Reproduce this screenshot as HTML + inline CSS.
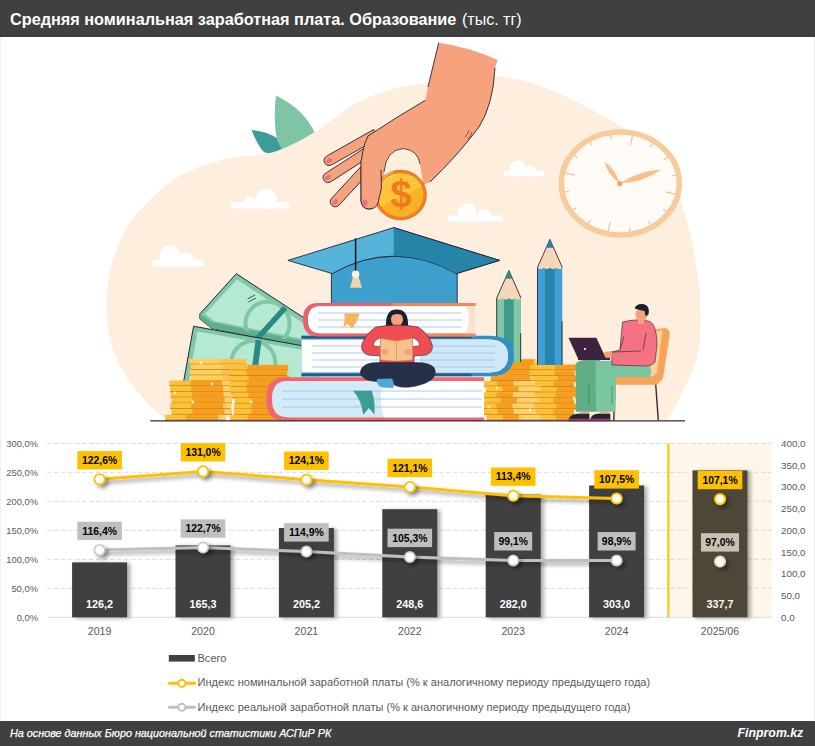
<!DOCTYPE html>
<html><head><meta charset="utf-8"><style>
html,body{margin:0;padding:0;background:#fff;}
body{width:815px;height:746px;position:relative;overflow:hidden;font-family:"Liberation Sans",sans-serif;}
.hdr{position:absolute;left:0;top:0;width:815px;height:36px;background:#404040;color:#fff;}
.hdr span{position:absolute;left:10px;top:9px;font-size:16.5px;white-space:nowrap;}
.ftr{position:absolute;left:0;top:721px;width:815px;height:25px;background:#404040;color:#fff;}
svg{position:absolute;left:0;top:0;}
</style></head><body>
<svg width="815" height="746" viewBox="0 0 815 746">
<line x1="0.5" y1="36" x2="0.5" y2="721" stroke="#efefef"/>
<line x1="814.5" y1="36" x2="814.5" y2="721" stroke="#ebebeb"/>
<path d="M251.6,130 Q268,131 280,140 L284,152 Q266,156 262,150 Q256,142 251.6,130Z" fill="#3f9b9a"/>
<path d="M275.9,95.5 Q273,120 277,140 L283,152 L316,136 Q306,110 275.9,95.5Z" fill="#7dc5a5"/>
<path d="M169.0,421.0 C166.0,418.6 157.6,413.1 151.0,406.4 C144.4,399.7 135.2,389.5 129.3,381.0 C123.4,372.5 118.8,364.0 115.3,355.5 C111.8,347.0 109.8,339.9 108.3,330.0 C106.8,320.1 105.5,308.2 106.5,296.0 C107.5,283.8 109.8,269.7 114.4,256.6 C119.0,243.6 123.9,230.6 133.9,217.7 C143.9,204.8 159.8,188.6 174.7,178.9 C189.5,169.2 206.8,163.8 223.0,159.4 C239.2,155.0 256.7,157.0 272.0,152.5 C287.3,148.0 300.4,140.7 314.7,132.3 C329.0,123.9 343.3,109.8 357.6,102.3 C371.9,94.8 386.3,90.8 400.6,87.2 C414.9,83.6 427.3,82.6 443.5,80.8 C459.7,79.0 480.9,75.3 498.0,76.5 C515.1,77.7 528.5,81.4 546.0,88.0 C563.5,94.6 586.0,106.5 603.0,116.0 C620.0,125.5 636.5,134.3 648.0,145.0 C659.5,155.7 665.3,166.7 672.0,180.0 C678.7,193.3 683.8,210.0 688.0,225.0 C692.2,240.0 694.9,256.2 697.0,270.0 C699.1,283.8 700.4,293.4 700.4,308.0 C700.4,322.6 701.2,341.1 697.0,357.6 C692.8,374.1 680.2,396.4 675.0,407.0 C669.8,417.6 667.5,418.7 666.0,421.0Z" fill="#fdeedd"/>
<g fill="#fff"><rect x="230.7" y="201.9" width="59.3" height="6.6" rx="3.3"/><circle cx="250.3" cy="202.3" r="6.1"/><circle cx="266.3" cy="198.7" r="10.2"/></g>
<g fill="#fff"><rect x="152.0" y="259.6" width="52.0" height="6.8" rx="3.4"/><circle cx="170.2" cy="256.1" r="10.7"/><circle cx="186.3" cy="259.6" r="7.3"/></g>
<g fill="#fff"><rect x="447.8" y="215.5" width="55.0" height="6.0" rx="3.0"/><circle cx="467.1" cy="212.4" r="9.5"/><circle cx="484.1" cy="215.5" r="6.4"/></g>
<g fill="#fff"><rect x="503.5" y="171.1" width="40.7" height="5.2" rx="2.6"/><circle cx="517.7" cy="168.6" r="8.1"/><circle cx="530.4" cy="171.1" r="5.5"/></g>
<ellipse cx="620.3" cy="183.5" rx="58.9" ry="51.5" fill="#fefbf7" stroke="#f8cb9d" stroke-width="5.6"/>
<line x1="610.5" y1="135.3" x2="611.3" y2="139.5" stroke="#f3bf8a" stroke-width="1.1"/>
<line x1="632.5" y1="135.8" x2="630.3" y2="145.5" stroke="#f3bf8a" stroke-width="1.1"/>
<line x1="652.6" y1="143.4" x2="650.2" y2="146.9" stroke="#f3bf8a" stroke-width="1.1"/>
<line x1="667.8" y1="157.2" x2="664.2" y2="159.5" stroke="#f3bf8a" stroke-width="1.1"/>
<line x1="675.7" y1="175.0" x2="671.6" y2="175.7" stroke="#f3bf8a" stroke-width="1.1"/>
<line x1="675.3" y1="194.1" x2="665.5" y2="191.9" stroke="#f3bf8a" stroke-width="1.1"/>
<line x1="666.4" y1="211.5" x2="663.0" y2="209.1" stroke="#f3bf8a" stroke-width="1.1"/>
<line x1="650.5" y1="224.7" x2="648.3" y2="221.2" stroke="#f3bf8a" stroke-width="1.1"/>
<line x1="630.1" y1="231.7" x2="629.3" y2="227.5" stroke="#f3bf8a" stroke-width="1.1"/>
<line x1="608.1" y1="231.2" x2="610.3" y2="221.5" stroke="#f3bf8a" stroke-width="1.1"/>
<line x1="588.0" y1="223.6" x2="590.4" y2="220.1" stroke="#f3bf8a" stroke-width="1.1"/>
<line x1="572.8" y1="209.8" x2="576.4" y2="207.5" stroke="#f3bf8a" stroke-width="1.1"/>
<line x1="564.9" y1="192.0" x2="569.0" y2="191.3" stroke="#f3bf8a" stroke-width="1.1"/>
<line x1="565.3" y1="172.9" x2="575.1" y2="175.1" stroke="#f3bf8a" stroke-width="1.1"/>
<line x1="574.2" y1="155.5" x2="577.6" y2="157.9" stroke="#f3bf8a" stroke-width="1.1"/>
<line x1="590.1" y1="142.3" x2="592.3" y2="145.8" stroke="#f3bf8a" stroke-width="1.1"/>
<path d="M619.8,183.6 Q616.1,169.7 604.3,161.5 Q608.0,175.4 619.8,183.6Z" fill="#f6c08c"/>
<path d="M619.8,183.6 Q642.7,182.7 661.5,169.5 Q638.6,170.4 619.8,183.6Z" fill="#f6c08c"/>
<circle cx="619.8" cy="183.6" r="2.6" fill="#eea66c"/>
<path d="M373.5,129.6 L327.5,155.6 Q322.3,158.6 324.8,163.0 Q327.2,167.3 332.5,164.4 L378.5,138.4Z" fill="#f5a27d" stroke="#26253a" stroke-width="0.9"/><ellipse cx="329.0" cy="160.6" rx="3.2" ry="2.2" transform="rotate(150.5 329.0 160.6)" fill="#ea7270"/>
<path d="M371.3,143.8 L326.3,172.8 Q321.2,176.0 324.0,180.3 Q326.7,184.5 331.7,181.2 L376.7,152.2Z" fill="#f5a27d" stroke="#26253a" stroke-width="0.9"/><ellipse cx="328.0" cy="177.7" rx="3.2" ry="2.2" transform="rotate(147.2 328.0 177.7)" fill="#ea7270"/>
<path d="M368.3,158.6 L332.3,197.6 Q328.3,202.0 331.9,205.4 Q335.6,208.8 339.7,204.4 L375.7,165.4Z" fill="#f5a27d" stroke="#26253a" stroke-width="0.9"/><ellipse cx="335.2" cy="201.9" rx="3.2" ry="2.2" transform="rotate(132.7 335.2 201.9)" fill="#ea7270"/>
<path d="M438.7,42.7 Q470,47 497.7,60.1 L495,68 Q493,105 479,127 Q458,155 430,182 L410,190 L384,192 L377,201 Q376,209 369,209 Q362,209 361,201 L361,170 Q361,150 368,136 Q395,118 425.3,100.3 L428,87 Z" fill="#f5a27d"/>
<path d="M438.7,42.7 L428,87 M425.3,100.3 Q395,118 368,136 Q361,150 361,170 L361,201 Q362,209 369,209 Q376,209 377,201 L381,180 M495,68 Q493,105 479,127 Q458,155 430,182" fill="none" stroke="#26253a" stroke-width="0.9"/>
<path d="M465,137 Q468,134 469,130 M468,139 Q471,136 472,132" fill="none" stroke="#26253a" stroke-width="0.6"/>
<ellipse cx="365.5" cy="203" rx="2.6" ry="3.6" fill="#ea7270"/>
<path d="M384,172 Q386,150 403,148.5 Q418,150 420,164 L424,190 L384,190 Z" fill="#fdeedd"/>
<path d="M384,172 Q386,150 403,148.5 Q418,150 420,164" fill="none" stroke="#26253a" stroke-width="0.8"/>
<defs><clipPath id="coinc"><ellipse cx="400.5" cy="195" rx="23" ry="21.8"/></clipPath></defs>
<ellipse cx="400.5" cy="195" rx="26" ry="24.9" fill="#f27d22" stroke="#b85a1a" stroke-width="0.5"/>
<ellipse cx="400.5" cy="195" rx="23" ry="21.8" fill="#f9b226"/>
<g clip-path="url(#coinc)"><path d="M370,160 L440,160 L440,178 L370,212 Z" fill="#fcc43b"/></g>
<path d="M383,178 Q388,173 393,172 M384,182 Q390,176 395,175" fill="none" stroke="#fde7a8" stroke-width="0.8"/>
<text x="401" y="207" font-family="Liberation Sans, sans-serif" font-weight="bold" font-size="38" fill="#f07a20" text-anchor="middle">$</text>
<path d="M361,160 L361,201 Q362,209 369,209 Q376,209 378,203 L381.4,188 L381,166 L375,160 Z" fill="#f5a27d"/>
<path d="M361,160 L361,201 Q362,209 369,209 Q376,209 378,203 L381.4,188 L381,170" fill="none" stroke="#26253a" stroke-width="0.9"/>
<ellipse cx="365" cy="203" rx="2.6" ry="3.8" fill="#ea7270"/>
<defs><clipPath id="cb1"><path d="M237,279.5 L318,333 L318,346 L214,324.5 L205,316 Z"/></clipPath><clipPath id="cb2"><path d="M197,331 L318,352 L318,400 L187,392 Z"/></clipPath></defs>
<path d="M236.3,273.7 L318,327 L318,350 L211.5,328.2 L199.9,319 L199.9,313.9 Z" fill="#80c9a7" stroke="#26253a" stroke-width="1"/>
<path d="M199.9,314 L211.5,322 L318,344 L318,350 L211.5,328.2 L199.9,319Z" fill="#5fae8d"/>
<path d="M237,279.5 L318,333 L318,342 L214,321 L205,314 Z" fill="#b6e9d3"/>
<g clip-path="url(#cb1)"><circle cx="267.5" cy="323.7" r="22" fill="none" stroke="#7fc7a6" stroke-width="4"/></g>
<path d="M285.3,307.7 L256.9,339" stroke="#2c8a82" stroke-width="5.5"/>
<path d="M247.5,299 L255,295 M248.5,302 L256,298" stroke="#26253a" stroke-width="0.8"/>
<path d="M193.6,326.3 L318,348.5 L318,400 L182.1,390 Z" fill="#80c9a7" stroke="#26253a" stroke-width="1"/>
<path d="M197.5,331.5 L318,352.5 L318,400 L187,392 Z" fill="#b6e9d3"/>
<g clip-path="url(#cb2)"><circle cx="253.3" cy="363" r="22" fill="none" stroke="#7fc7a6" stroke-width="4"/></g>
<path d="M258.6,340 L254,375" stroke="#2c8a82" stroke-width="6"/>
<rect x="188.7" y="359.0" width="57.5" height="5.5" fill="#fdd05a"/><rect x="220.3" y="359.0" width="25.9" height="5.5" fill="#fdc24a"/><rect x="246.2" y="359.0" width="0.0" height="5.5" fill="#fde08f"/><rect x="188.7" y="363.6" width="57.5" height="0.9" fill="#c9822e"/><rect x="190.8" y="364.5" width="57.5" height="5.5" fill="#fdd05a"/><rect x="222.4" y="364.5" width="25.9" height="5.5" fill="#fdc24a"/><rect x="248.3" y="364.5" width="0.0" height="5.5" fill="#fde08f"/><rect x="190.8" y="369.1" width="57.5" height="0.9" fill="#c9822e"/><rect x="189.6" y="370.0" width="57.5" height="5.5" fill="#fdd05a"/><rect x="221.2" y="370.0" width="25.9" height="5.5" fill="#fdc24a"/><rect x="247.1" y="370.0" width="0.0" height="5.5" fill="#fde08f"/><rect x="189.6" y="374.6" width="57.5" height="0.9" fill="#c9822e"/><rect x="191.2" y="375.5" width="57.5" height="5.5" fill="#fdd05a"/><rect x="222.9" y="375.5" width="25.9" height="5.5" fill="#fdc24a"/><rect x="248.7" y="375.5" width="0.0" height="5.5" fill="#fde08f"/><rect x="191.2" y="380.1" width="57.5" height="0.9" fill="#c9822e"/>
<rect x="230.2" y="364.9" width="58.0" height="5.6" fill="#fcc233"/><rect x="247.6" y="364.9" width="40.6" height="5.6" fill="#f79e1e"/><rect x="288.2" y="364.9" width="0.0" height="5.6" fill="#fbd06a"/><rect x="230.2" y="369.6" width="58.0" height="0.9" fill="#c9822e"/><rect x="229.2" y="370.5" width="58.0" height="5.6" fill="#fcc233"/><rect x="246.6" y="370.5" width="40.6" height="5.6" fill="#f79e1e"/><rect x="287.2" y="370.5" width="0.0" height="5.6" fill="#fbd06a"/><rect x="229.2" y="375.1" width="58.0" height="0.9" fill="#c9822e"/><rect x="231.3" y="376.0" width="58.0" height="5.6" fill="#fcc233"/><rect x="248.7" y="376.0" width="40.6" height="5.6" fill="#f79e1e"/><rect x="289.3" y="376.0" width="0.0" height="5.6" fill="#fbd06a"/><rect x="231.3" y="380.7" width="58.0" height="0.9" fill="#c9822e"/><rect x="229.6" y="381.6" width="58.0" height="5.6" fill="#fcc233"/><rect x="247.0" y="381.6" width="40.6" height="5.6" fill="#f79e1e"/><rect x="287.6" y="381.6" width="0.0" height="5.6" fill="#fbd06a"/><rect x="229.6" y="386.2" width="58.0" height="0.9" fill="#c9822e"/><rect x="229.0" y="387.1" width="58.0" height="5.6" fill="#fcc233"/><rect x="246.4" y="387.1" width="40.6" height="5.6" fill="#f79e1e"/><rect x="287.0" y="387.1" width="0.0" height="5.6" fill="#fbd06a"/><rect x="229.0" y="391.8" width="58.0" height="0.9" fill="#c9822e"/><rect x="231.3" y="392.7" width="58.0" height="5.6" fill="#fcc233"/><rect x="248.7" y="392.7" width="40.6" height="5.6" fill="#f79e1e"/><rect x="289.3" y="392.7" width="0.0" height="5.6" fill="#fbd06a"/><rect x="231.3" y="397.4" width="58.0" height="0.9" fill="#c9822e"/><rect x="234.9" y="398.3" width="58.0" height="5.6" fill="#fcc233"/><rect x="252.3" y="398.3" width="40.6" height="5.6" fill="#f79e1e"/><rect x="292.9" y="398.3" width="0.0" height="5.6" fill="#fbd06a"/><rect x="234.9" y="402.9" width="58.0" height="0.9" fill="#c9822e"/><rect x="234.1" y="403.8" width="58.0" height="5.6" fill="#fcc233"/><rect x="251.5" y="403.8" width="40.6" height="5.6" fill="#f79e1e"/><rect x="292.1" y="403.8" width="0.0" height="5.6" fill="#fbd06a"/><rect x="234.1" y="408.5" width="58.0" height="0.9" fill="#c9822e"/><rect x="233.9" y="409.4" width="58.0" height="5.6" fill="#fcc233"/><rect x="251.3" y="409.4" width="40.6" height="5.6" fill="#f79e1e"/><rect x="291.9" y="409.4" width="0.0" height="5.6" fill="#fbd06a"/><rect x="233.9" y="414.0" width="58.0" height="0.9" fill="#c9822e"/><rect x="230.1" y="414.9" width="58.0" height="5.6" fill="#fcc233"/><rect x="247.5" y="414.9" width="40.6" height="5.6" fill="#f79e1e"/><rect x="288.1" y="414.9" width="0.0" height="5.6" fill="#fbd06a"/><rect x="230.1" y="419.6" width="58.0" height="0.9" fill="#c9822e"/>
<rect x="169.4" y="380.5" width="60.3" height="5.7" fill="#fcc233"/><rect x="190.5" y="380.5" width="32.0" height="5.7" fill="#f79e1e"/><rect x="222.4" y="380.5" width="7.2" height="5.7" fill="#fbd06a"/><rect x="169.4" y="385.3" width="60.3" height="0.9" fill="#c9822e"/><rect x="170.2" y="386.2" width="60.3" height="5.7" fill="#fcc233"/><rect x="191.3" y="386.2" width="32.0" height="5.7" fill="#f79e1e"/><rect x="223.3" y="386.2" width="7.2" height="5.7" fill="#fbd06a"/><rect x="170.2" y="391.0" width="60.3" height="0.9" fill="#c9822e"/><rect x="170.6" y="391.9" width="60.3" height="5.7" fill="#fcc233"/><rect x="191.7" y="391.9" width="32.0" height="5.7" fill="#f79e1e"/><rect x="223.6" y="391.9" width="7.2" height="5.7" fill="#fbd06a"/><rect x="170.6" y="396.7" width="60.3" height="0.9" fill="#c9822e"/><rect x="171.6" y="397.6" width="60.3" height="5.7" fill="#fcc233"/><rect x="192.7" y="397.6" width="32.0" height="5.7" fill="#f79e1e"/><rect x="224.7" y="397.6" width="7.2" height="5.7" fill="#fbd06a"/><rect x="171.6" y="402.5" width="60.3" height="0.9" fill="#c9822e"/><rect x="170.2" y="403.4" width="60.3" height="5.7" fill="#fcc233"/><rect x="191.3" y="403.4" width="32.0" height="5.7" fill="#f79e1e"/><rect x="223.2" y="403.4" width="7.2" height="5.7" fill="#fbd06a"/><rect x="170.2" y="408.2" width="60.3" height="0.9" fill="#c9822e"/><rect x="171.5" y="409.1" width="60.3" height="5.7" fill="#fcc233"/><rect x="192.6" y="409.1" width="32.0" height="5.7" fill="#f79e1e"/><rect x="224.5" y="409.1" width="7.2" height="5.7" fill="#fbd06a"/><rect x="171.5" y="413.9" width="60.3" height="0.9" fill="#c9822e"/><rect x="165.2" y="414.8" width="60.3" height="5.7" fill="#fcc233"/><rect x="186.3" y="414.8" width="32.0" height="5.7" fill="#f79e1e"/><rect x="218.3" y="414.8" width="7.2" height="5.7" fill="#fbd06a"/><rect x="165.2" y="419.6" width="60.3" height="0.9" fill="#c9822e"/>
<rect x="494.6" y="359.3" width="52.7" height="5.4" fill="#fcc233"/><rect x="494.6" y="359.3" width="39.5" height="5.4" fill="#f79e1e"/><rect x="534.1" y="359.3" width="13.2" height="5.4" fill="#fbd06a"/><rect x="494.6" y="363.8" width="52.7" height="0.9" fill="#c9822e"/><rect x="494.8" y="364.7" width="52.7" height="5.4" fill="#fcc233"/><rect x="494.8" y="364.7" width="39.5" height="5.4" fill="#f79e1e"/><rect x="534.3" y="364.7" width="13.2" height="5.4" fill="#fbd06a"/><rect x="494.8" y="369.3" width="52.7" height="0.9" fill="#c9822e"/><rect x="492.4" y="370.1" width="52.7" height="5.4" fill="#fcc233"/><rect x="492.4" y="370.1" width="39.5" height="5.4" fill="#f79e1e"/><rect x="531.9" y="370.1" width="13.2" height="5.4" fill="#fbd06a"/><rect x="492.4" y="374.7" width="52.7" height="0.9" fill="#c9822e"/><rect x="490.8" y="375.6" width="52.7" height="5.4" fill="#fcc233"/><rect x="490.8" y="375.6" width="39.5" height="5.4" fill="#f79e1e"/><rect x="530.4" y="375.6" width="13.2" height="5.4" fill="#fbd06a"/><rect x="490.8" y="380.1" width="52.7" height="0.9" fill="#c9822e"/>
<rect x="530.4" y="364.7" width="45.4" height="5.6" fill="#fcc233"/><rect x="555.3" y="364.7" width="20.4" height="5.6" fill="#f79e1e"/><rect x="575.8" y="364.7" width="0.0" height="5.6" fill="#fbd06a"/><rect x="530.4" y="369.4" width="45.4" height="0.9" fill="#c9822e"/><rect x="529.2" y="370.3" width="45.4" height="5.6" fill="#fcc233"/><rect x="554.1" y="370.3" width="20.4" height="5.6" fill="#f79e1e"/><rect x="574.6" y="370.3" width="0.0" height="5.6" fill="#fbd06a"/><rect x="529.2" y="375.0" width="45.4" height="0.9" fill="#c9822e"/><rect x="532.7" y="375.9" width="45.4" height="5.6" fill="#fcc233"/><rect x="557.6" y="375.9" width="20.4" height="5.6" fill="#f79e1e"/><rect x="578.1" y="375.9" width="0.0" height="5.6" fill="#fbd06a"/><rect x="532.7" y="380.5" width="45.4" height="0.9" fill="#c9822e"/><rect x="528.6" y="381.4" width="45.4" height="5.6" fill="#fcc233"/><rect x="553.6" y="381.4" width="20.4" height="5.6" fill="#f79e1e"/><rect x="574.0" y="381.4" width="0.0" height="5.6" fill="#fbd06a"/><rect x="528.6" y="386.1" width="45.4" height="0.9" fill="#c9822e"/><rect x="531.9" y="387.0" width="45.4" height="5.6" fill="#fcc233"/><rect x="556.8" y="387.0" width="20.4" height="5.6" fill="#f79e1e"/><rect x="577.3" y="387.0" width="0.0" height="5.6" fill="#fbd06a"/><rect x="531.9" y="391.7" width="45.4" height="0.9" fill="#c9822e"/><rect x="530.7" y="392.6" width="45.4" height="5.6" fill="#fcc233"/><rect x="555.6" y="392.6" width="20.4" height="5.6" fill="#f79e1e"/><rect x="576.1" y="392.6" width="0.0" height="5.6" fill="#fbd06a"/><rect x="530.7" y="397.3" width="45.4" height="0.9" fill="#c9822e"/><rect x="528.5" y="398.2" width="45.4" height="5.6" fill="#fcc233"/><rect x="553.5" y="398.2" width="20.4" height="5.6" fill="#f79e1e"/><rect x="573.9" y="398.2" width="0.0" height="5.6" fill="#fbd06a"/><rect x="528.5" y="402.9" width="45.4" height="0.9" fill="#c9822e"/><rect x="531.7" y="403.8" width="45.4" height="5.6" fill="#fcc233"/><rect x="556.6" y="403.8" width="20.4" height="5.6" fill="#f79e1e"/><rect x="577.1" y="403.8" width="0.0" height="5.6" fill="#fbd06a"/><rect x="531.7" y="408.4" width="45.4" height="0.9" fill="#c9822e"/><rect x="528.4" y="409.3" width="45.4" height="5.6" fill="#fcc233"/><rect x="553.3" y="409.3" width="20.4" height="5.6" fill="#f79e1e"/><rect x="573.8" y="409.3" width="0.0" height="5.6" fill="#fbd06a"/><rect x="528.4" y="414.0" width="45.4" height="0.9" fill="#c9822e"/><rect x="531.1" y="414.9" width="45.4" height="5.6" fill="#fcc233"/><rect x="556.1" y="414.9" width="20.4" height="5.6" fill="#f79e1e"/><rect x="576.5" y="414.9" width="0.0" height="5.6" fill="#fbd06a"/><rect x="531.1" y="419.6" width="45.4" height="0.9" fill="#c9822e"/>
<rect x="481.1" y="381.0" width="54.2" height="5.6" fill="#fcc233"/><rect x="497.3" y="381.0" width="16.3" height="5.6" fill="#f79e1e"/><rect x="513.6" y="381.0" width="21.7" height="5.6" fill="#fbd06a"/><rect x="481.1" y="385.7" width="54.2" height="0.9" fill="#c9822e"/><rect x="486.2" y="386.6" width="54.2" height="5.6" fill="#fcc233"/><rect x="502.5" y="386.6" width="16.3" height="5.6" fill="#f79e1e"/><rect x="518.8" y="386.6" width="21.7" height="5.6" fill="#fbd06a"/><rect x="486.2" y="391.4" width="54.2" height="0.9" fill="#c9822e"/><rect x="480.4" y="392.3" width="54.2" height="5.6" fill="#fcc233"/><rect x="496.6" y="392.3" width="16.3" height="5.6" fill="#f79e1e"/><rect x="512.9" y="392.3" width="21.7" height="5.6" fill="#fbd06a"/><rect x="480.4" y="397.0" width="54.2" height="0.9" fill="#c9822e"/><rect x="484.4" y="397.9" width="54.2" height="5.6" fill="#fcc233"/><rect x="500.7" y="397.9" width="16.3" height="5.6" fill="#f79e1e"/><rect x="517.0" y="397.9" width="21.7" height="5.6" fill="#fbd06a"/><rect x="484.4" y="402.7" width="54.2" height="0.9" fill="#c9822e"/><rect x="480.1" y="403.6" width="54.2" height="5.6" fill="#fcc233"/><rect x="496.4" y="403.6" width="16.3" height="5.6" fill="#f79e1e"/><rect x="512.6" y="403.6" width="21.7" height="5.6" fill="#fbd06a"/><rect x="480.1" y="408.3" width="54.2" height="0.9" fill="#c9822e"/><rect x="481.2" y="409.2" width="54.2" height="5.6" fill="#fcc233"/><rect x="497.5" y="409.2" width="16.3" height="5.6" fill="#f79e1e"/><rect x="513.8" y="409.2" width="21.7" height="5.6" fill="#fbd06a"/><rect x="481.2" y="414.0" width="54.2" height="0.9" fill="#c9822e"/><rect x="486.5" y="414.9" width="54.2" height="5.6" fill="#fcc233"/><rect x="502.8" y="414.9" width="16.3" height="5.6" fill="#f79e1e"/><rect x="519.0" y="414.9" width="21.7" height="5.6" fill="#fbd06a"/><rect x="486.5" y="419.6" width="54.2" height="0.9" fill="#c9822e"/>
<path d="M201,360.8 Q201,363 203.2,363 Q201,363 201,365.2 Q201,363 198.8,363 Q201,363 201,360.8Z" fill="#fff"/>
<path d="M212,381.8 Q212,384 214.2,384 Q212,384 212,386.2 Q212,384 209.8,384 Q212,384 212,381.8Z" fill="#fff"/>
<path d="M175,390.8 Q175,393 177.2,393 Q175,393 175,395.2 Q175,393 172.8,393 Q175,393 175,390.8Z" fill="#fff"/>
<path d="M193,399.8 Q193,402 195.2,402 Q193,402 193,404.2 Q193,402 190.8,402 Q193,402 193,399.8Z" fill="#fff"/>
<path d="M251,399.8 Q251,402 253.2,402 Q251,402 251,404.2 Q251,402 248.8,402 Q251,402 251,399.8Z" fill="#fff"/>
<path d="M540,350.8 Q540,353 542.2,353 Q540,353 540,355.2 Q540,353 537.8,353 Q540,353 540,350.8Z" fill="#fff"/>
<path d="M497,385.8 Q497,388 499.2,388 Q497,388 497,390.2 Q497,388 494.8,388 Q497,388 497,385.8Z" fill="#fff"/>
<path d="M574,395.8 Q574,398 576.2,398 Q574,398 574,400.2 Q574,398 571.8,398 Q574,398 574,395.8Z" fill="#fff"/>
<path d="M530,407.8 Q530,410 532.2,410 Q530,410 530,412.2 Q530,410 527.8,410 Q530,410 530,407.8Z" fill="#fff"/>
<path d="M489,404.8 Q489,407 491.2,407 Q489,407 489,409.2 Q489,407 486.8,407 Q489,407 489,404.8Z" fill="#fff"/>
<rect x="496.7" y="298.0" width="24.3" height="64.0" fill="#80c8a5"/><rect x="504.0" y="298.0" width="9.7" height="64.0" fill="#3f9a8c"/><path d="M496.7,298.0 L508.9,270.5 L521.0,298.0 Q518.0,301.2 514.9,298.0 Q511.9,301.2 508.9,298.0 Q505.8,301.2 502.8,298.0 Q499.7,301.2 496.7,298.0Z" fill="#f6d8b8"/><path d="M496.7,362.0 L496.7,298.0 L508.9,270.5 L521.0,298.0" fill="none" stroke="#26253a" stroke-width="0.9"/><line x1="520.7" y1="333.2" x2="520.7" y2="362.0" stroke="#26253a" stroke-width="0.9"/><path d="M505.2,278.8 L508.9,270.5 L512.5,278.8Z" fill="#2f8b87"/>
<rect x="537.5" y="267.5" width="24.8" height="97.5" fill="#3fa1d3"/><rect x="544.9" y="267.5" width="9.9" height="97.5" fill="#2a84ae"/><path d="M537.5,267.5 L549.9,239.4 L562.3,267.5 Q559.2,270.7 556.1,267.5 Q553.0,270.7 549.9,267.5 Q546.8,270.7 543.7,267.5 Q540.6,270.7 537.5,267.5Z" fill="#f6d8b8"/><path d="M537.5,365.0 L537.5,267.5 L549.9,239.4 L562.3,267.5" fill="none" stroke="#26253a" stroke-width="0.9"/><line x1="562.0" y1="321.1" x2="562.0" y2="365.0" stroke="#26253a" stroke-width="0.9"/><path d="M546.2,247.8 L549.9,239.4 L553.6,247.8Z" fill="#2b7fa8"/>
<path d="M331.4,272.5 Q394,240 457.2,272.5 L457.2,304 L331.4,304 Z" fill="#3d9fcb" stroke="#26253a" stroke-width="0.9"/>
<path d="M393.7,227.6 L287.9,260.4 L332.2,273.6 Q394,238.6 456.4,273.6 L499.6,260.4 Z" fill="#56b3d9" stroke="#26253a" stroke-width="0.9"/>
<path d="M393.7,227.6 L499.6,260.4 L456.4,273.6 Q425,256 393.7,256.1 Z" fill="#2584a8"/>
<path d="M393.7,227.6 L499.6,260.4 L456.4,273.6" fill="none" stroke="#26253a" stroke-width="0.9"/>
<line x1="355.6" y1="238.3" x2="355.6" y2="271" stroke="#1c1c28" stroke-width="1.6"/>
<path d="M353,277 L350,287.7 L362,287.7 L358.5,277Z" fill="#f3d3ae"/>
<circle cx="355.6" cy="274.2" r="3.8" fill="#faf1e4"/>
<path d="M484,377.3 L285,377.3 Q266.4,377.3 266.4,399 Q266.4,421 285,421 L484,421 L484,417.2 L287,417.2 Q272,417 272,399 Q272,381 287,381 L484,381 Z" fill="#ef6670"/>
<path d="M484,381 L287,381 Q272,381 272,399 Q272,417 287,417.2 L484,417.2 Z" fill="#d3eaf7"/>
<path d="M484,381 L383.8,381 Q377.4,399 383.8,417.2 L484,417.2Z" fill="#fff"/>
<line x1="282" y1="391" x2="482" y2="391" stroke="#9ec4ea" stroke-width="0.9"/>
<line x1="282" y1="399" x2="482" y2="399" stroke="#9ec4ea" stroke-width="0.9"/>
<line x1="282" y1="407" x2="482" y2="407" stroke="#9ec4ea" stroke-width="0.9"/>
<path d="M353,390.8 L371.8,390.8 Q375.5,402 374.4,414.6 L368.9,408.1 L363.3,414.8 Q361,399 353,390.8 Z" fill="#3f9b95"/>
<path d="M301.5,335.8 L490,335.8 Q513.6,335.8 513.6,356 Q513.6,376.3 490,376.3 L301.5,376.3 Z" fill="#2f8fc6"/>
<path d="M301.5,339.5 L488,339.5 Q508,339.5 508,356 Q508,372.5 488,372.5 L301.5,372.5 Z" fill="#fff"/>
<path d="M420,339.5 L488,339.5 Q508,339.5 508,356 Q508,372.5 488,372.5 L420,372.5 Z" fill="#cfe7f6"/>
<rect x="301.5" y="335.8" width="170" height="2.6" fill="#1f5d86"/><rect x="301.5" y="373.6" width="170" height="2.6" fill="#1f5d86"/>
<line x1="312" y1="346" x2="495" y2="346" stroke="#9ec4ea" stroke-width="0.9"/>
<line x1="312" y1="353" x2="495" y2="353" stroke="#9ec4ea" stroke-width="0.9"/>
<line x1="312" y1="360" x2="495" y2="360" stroke="#9ec4ea" stroke-width="0.9"/>
<line x1="312" y1="367" x2="495" y2="367" stroke="#9ec4ea" stroke-width="0.9"/>
<path d="M475.3,303 L318,303 Q303,303 303,319.7 Q303,336.5 318,336.5 L475.3,336.5 L475.3,333.2 L320,333.2 Q308,333 308,319.7 Q308,306.5 320,306.3 L475.3,306.3 Z" fill="#ee5f6b"/>
<rect x="392" y="303" width="83.3" height="3.3" fill="#f2875a"/><rect x="392" y="333.2" width="83.3" height="3.3" fill="#f2875a"/>
<path d="M475.3,306.3 L320,306.3 Q308,306.5 308,319.7 Q308,333 320,333.2 L475.3,333.2 Z" fill="#fff"/>
<line x1="318" y1="313" x2="462" y2="313" stroke="#9ec4ea" stroke-width="0.9"/>
<line x1="318" y1="320" x2="462" y2="320" stroke="#9ec4ea" stroke-width="0.9"/>
<line x1="318" y1="327" x2="462" y2="327" stroke="#9ec4ea" stroke-width="0.9"/>
<path d="M466,306.3 Q472,319.7 466,333.2 L475.3,333.2 L475.3,306.3Z" fill="#f9e3cf"/>
<path d="M344.2,313.5 L359.6,313.5 Q357.5,322 351.9,328.5 L347.5,324 L343,327.8 Q345.5,320 344.2,313.5Z" fill="#f6b55a"/>
<path d="M386,327 Q385,309 397,309.5 Q409,309.5 408,327 Z" fill="#1e1f2e"/>
<ellipse cx="397" cy="319.5" rx="6" ry="6.8" fill="#f2a27e"/>
<path d="M390,316 Q391,310 397,310 Q404,310 404.5,316 Q398,312 390,316Z" fill="#1e1f2e"/>
<path d="M376,327 Q397,323 418,327 Q428,333 432,344 Q434,352 426,355 L414,356 L414,364 L380,364 L380,356 L368,355 Q360,352 362,344 Q366,333 376,327Z" fill="#ef4d52" stroke="#26253a" stroke-width="0.6"/>
<path d="M375,341 Q378,338.5 380.6,337.5 L380.6,346.5 L373.5,346 Q373.5,343 375,341Z" fill="#fff" stroke="#26253a" stroke-width="0.5"/>
<path d="M418,341 Q415,338.5 412.4,337.5 L412.4,346.5 L419.5,346 Q419.5,343 418,341Z" fill="#fff" stroke="#26253a" stroke-width="0.5"/>
<path d="M380.6,338.5 L396.5,341 L412.4,338.5 L412.4,359.8 L396.5,361 L380.6,359.8 Z" fill="#f6c38d" stroke="#d6955a" stroke-width="0.5"/>
<line x1="396.5" y1="341" x2="396.5" y2="361" stroke="#e99a4c" stroke-width="1"/>
<ellipse cx="385" cy="352" rx="3.5" ry="3" fill="#f2a27e"/><ellipse cx="408" cy="352" rx="3.5" ry="3" fill="#f2a27e"/>
<path d="M380,362.5 Q362,362 360.3,372 Q361,381 378,381.5 L392,383 Q396,388 410,387 Q436,383 435.3,371 Q434,362 414,362.5 Z" fill="#253049" stroke="#26253a" stroke-width="0.6"/>
<path d="M377,379 L392,378.5 Q395,384 393,388 L382,387.5 Q376,385 377,379Z" fill="#4fa8d8"/>
<path d="M648.7,330 L665,328 Q670.5,329 669.6,336 L663,378 Q660,384 652,384 L645,378 Z" fill="#f5a559"/>
<path d="M650,332 L662.5,330.5 L657,372 Q655,377 648,377 Z" fill="#f7d39c"/>
<line x1="615" y1="384" x2="613.8" y2="420.5" stroke="#3a2a35" stroke-width="1.4"/>
<line x1="655.7" y1="384" x2="658.3" y2="420.5" stroke="#3a2a35" stroke-width="1.4"/>
<path d="M613.8,376.9 L659,376.9 Q661,381 657,384.8 L613.8,384.8 Z" fill="#f5a559"/>
<path d="M575.5,364 Q578,359.5 590,359.5 L600,360 L598,411.8 L576,411.8 Z" fill="#5fae85"/>
<path d="M595.5,361 L646,360 Q653,366 650.4,376.9 L616,377 L615.6,411.8 L596,411.8 Z" fill="#7bc6a1"/>
<line x1="589" y1="384" x2="589" y2="405" stroke="#3f7f62" stroke-width="0.7"/><line x1="612" y1="386" x2="612" y2="405" stroke="#3f7f62" stroke-width="0.7"/>
<path d="M568.5,419.5 Q570,413.5 580,413.5 L589.4,413.5 L589.4,419.5 Z" fill="#22263a"/><path d="M590.3,419.5 Q591,413.5 600,413.5 L610.3,413.5 L610.3,419.5 Z" fill="#22263a"/>
<rect x="568.5" y="418.8" width="41.8" height="2.4" fill="#c9384a"/>
<path d="M580,411.5 L589,411.5 L589,413.6 L580,413.6Z M600,411.5 L609,411.5 L609,413.6 L600,413.6Z" fill="#f2a27e"/>
<path d="M622.5,322 Q638,318 650,321.5 Q657,326 657,345 L655,362 Q652,366 646,366 L612,365 L611.5,352 L620,350 Q621,336 622.5,322Z" fill="#f47281" stroke="#26253a" stroke-width="0.6"/>
<path d="M624,336 L620,350 M646,333 L643,350 M612,352 L641,351" fill="none" stroke="#26253a" stroke-width="0.6"/>
<path d="M604,352 L612,351 L612,358 L605,358 Z" fill="#f2a27e"/>
<ellipse cx="641.5" cy="314.5" rx="6" ry="7" fill="#f2a27e"/>
<rect x="638" y="319" width="6" height="5" fill="#f2a27e"/>
<path d="M634.7,308.5 Q636,303.5 643,304 Q650,305 648.7,314 Q647,316 645.5,315.9 L644.5,311 Q640,310 634.7,308.5Z" fill="#1e1f2e"/>
<path d="M568.5,337.7 L596.4,337.7 L606,358.6 L578,358.6 Z" fill="#3d2340"/>
<rect x="578" y="357.8" width="32" height="2.2" fill="#3d2340"/>
<circle cx="585" cy="349" r="1.1" fill="#fff"/>
<line x1="150.3" y1="420.8" x2="685" y2="420.8" stroke="#2e2b44" stroke-width="1.2"/>
<defs><filter id="sh" filterUnits="userSpaceOnUse" x="0" y="0" width="815" height="746"><feGaussianBlur in="SourceAlpha" stdDeviation="2.2"/><feOffset dx="2.5" dy="3"/><feComponentTransfer><feFuncA type="linear" slope="0.4"/></feComponentTransfer><feMerge><feMergeNode/><feMergeNode in="SourceGraphic"/></feMerge></filter><filter id="shb" filterUnits="userSpaceOnUse" x="0" y="400" width="815" height="240"><feGaussianBlur in="SourceAlpha" stdDeviation="2"/><feOffset dx="3" dy="1"/><feComponentTransfer><feFuncA type="linear" slope="0.35"/></feComponentTransfer><feMerge><feMergeNode/><feMergeNode in="SourceGraphic"/></feMerge></filter></defs><rect x="668.3" y="443.3" width="103.4" height="173.99999999999994" fill="#fdf7ea"/><line x1="47" y1="443.3" x2="771.7" y2="443.3" stroke="#d9d9d9" stroke-width="1" stroke-dasharray="4.6 2.4"/><line x1="47" y1="472.3" x2="771.7" y2="472.3" stroke="#d9d9d9" stroke-width="1" stroke-dasharray="4.6 2.4"/><line x1="47" y1="501.3" x2="771.7" y2="501.3" stroke="#d9d9d9" stroke-width="1" stroke-dasharray="4.6 2.4"/><line x1="47" y1="530.3" x2="771.7" y2="530.3" stroke="#d9d9d9" stroke-width="1" stroke-dasharray="4.6 2.4"/><line x1="47" y1="559.3" x2="771.7" y2="559.3" stroke="#d9d9d9" stroke-width="1" stroke-dasharray="4.6 2.4"/><line x1="47" y1="588.3" x2="771.7" y2="588.3" stroke="#d9d9d9" stroke-width="1" stroke-dasharray="4.6 2.4"/><line x1="47.9" y1="617.3" x2="771.7" y2="617.3" stroke="#d9d9d9" stroke-width="1"/><rect x="72.1" y="562.4" width="55" height="54.9" fill="#404040" filter="url(#shb)"/><rect x="175.5" y="545.4" width="55" height="71.9" fill="#404040" filter="url(#shb)"/><rect x="278.9" y="528.0" width="55" height="89.3" fill="#404040" filter="url(#shb)"/><rect x="382.3" y="509.2" width="55" height="108.1" fill="#404040" filter="url(#shb)"/><rect x="485.7" y="494.6" width="55" height="122.7" fill="#404040" filter="url(#shb)"/><rect x="589.1" y="485.5" width="55" height="131.8" fill="#404040" filter="url(#shb)"/><rect x="692.5" y="470.4" width="55" height="146.9" fill="#4d4639" filter="url(#shb)"/><polyline points="99.6,550.0 203.0,547.6 306.4,551.5 409.8,557.0 513.2,560.4 616.6,560.4" fill="none" stroke="#bfbfbf" stroke-width="3" filter="url(#sh)"/><polyline points="99.6,479.3 203.0,471.4 306.4,479.8 409.8,487.0 513.2,495.7 616.6,498.5" fill="none" stroke="#ffc000" stroke-width="3" filter="url(#sh)"/><circle cx="99.6" cy="479.3" r="5.2" fill="#fff" stroke="#ffc000" stroke-width="1.8" filter="url(#sh)"/><circle cx="99.6" cy="550.0" r="5.2" fill="#fff" stroke="#c8c8c8" stroke-width="1.6" filter="url(#sh)"/><circle cx="203.0" cy="471.4" r="5.2" fill="#fff" stroke="#ffc000" stroke-width="1.8" filter="url(#sh)"/><circle cx="203.0" cy="547.6" r="5.2" fill="#fff" stroke="#c8c8c8" stroke-width="1.6" filter="url(#sh)"/><circle cx="306.4" cy="479.8" r="5.2" fill="#fff" stroke="#ffc000" stroke-width="1.8" filter="url(#sh)"/><circle cx="306.4" cy="551.5" r="5.2" fill="#fff" stroke="#c8c8c8" stroke-width="1.6" filter="url(#sh)"/><circle cx="409.8" cy="487.0" r="5.2" fill="#fff" stroke="#ffc000" stroke-width="1.8" filter="url(#sh)"/><circle cx="409.8" cy="557.0" r="5.2" fill="#fff" stroke="#c8c8c8" stroke-width="1.6" filter="url(#sh)"/><circle cx="513.2" cy="495.7" r="5.2" fill="#fff" stroke="#ffc000" stroke-width="1.8" filter="url(#sh)"/><circle cx="513.2" cy="560.4" r="5.2" fill="#fff" stroke="#c8c8c8" stroke-width="1.6" filter="url(#sh)"/><circle cx="616.6" cy="498.5" r="5.2" fill="#fff" stroke="#ffc000" stroke-width="1.8" filter="url(#sh)"/><circle cx="616.6" cy="560.4" r="5.2" fill="#fff" stroke="#c8c8c8" stroke-width="1.6" filter="url(#sh)"/><circle cx="720.0" cy="499.1" r="5.2" fill="#fdf9ec" stroke="#ffc000" stroke-width="1.8" filter="url(#sh)"/><circle cx="720.0" cy="561.5" r="5.2" fill="#fdf9ec" stroke="#ddd6c6" stroke-width="1.6" filter="url(#sh)"/><rect x="77.3" y="451.0" width="44.6" height="18.4" fill="#ffc000"/><text x="99.6" y="463.9" font-family="Liberation Sans, sans-serif" font-size="10.4" font-weight="bold" fill="#000" text-anchor="middle">122,6%</text><rect x="77.3" y="521.7" width="44.6" height="18.4" fill="#bfbfbf"/><text x="99.6" y="534.6" font-family="Liberation Sans, sans-serif" font-size="10.4" font-weight="bold" fill="#000" text-anchor="middle">116,4%</text><text x="99.6" y="607.8" font-family="Liberation Sans, sans-serif" font-size="10.8" font-weight="bold" fill="#fff" text-anchor="middle">126,2</text><text x="99.6" y="635" font-family="Liberation Sans, sans-serif" font-size="10.6" fill="#595959" text-anchor="middle">2019</text><rect x="180.7" y="443.1" width="44.6" height="18.4" fill="#ffc000"/><text x="203.0" y="456.0" font-family="Liberation Sans, sans-serif" font-size="10.4" font-weight="bold" fill="#000" text-anchor="middle">131,0%</text><rect x="180.7" y="519.3" width="44.6" height="18.4" fill="#bfbfbf"/><text x="203.0" y="532.2" font-family="Liberation Sans, sans-serif" font-size="10.4" font-weight="bold" fill="#000" text-anchor="middle">122,7%</text><text x="203.0" y="607.8" font-family="Liberation Sans, sans-serif" font-size="10.8" font-weight="bold" fill="#fff" text-anchor="middle">165,3</text><text x="203.0" y="635" font-family="Liberation Sans, sans-serif" font-size="10.6" fill="#595959" text-anchor="middle">2020</text><rect x="284.1" y="451.5" width="44.6" height="18.4" fill="#ffc000"/><text x="306.4" y="464.4" font-family="Liberation Sans, sans-serif" font-size="10.4" font-weight="bold" fill="#000" text-anchor="middle">124,1%</text><rect x="284.1" y="523.2" width="44.6" height="18.4" fill="#bfbfbf"/><text x="306.4" y="536.1" font-family="Liberation Sans, sans-serif" font-size="10.4" font-weight="bold" fill="#000" text-anchor="middle">114,9%</text><text x="306.4" y="607.8" font-family="Liberation Sans, sans-serif" font-size="10.8" font-weight="bold" fill="#fff" text-anchor="middle">205,2</text><text x="306.4" y="635" font-family="Liberation Sans, sans-serif" font-size="10.6" fill="#595959" text-anchor="middle">2021</text><rect x="387.5" y="458.7" width="44.6" height="18.4" fill="#ffc000"/><text x="409.8" y="471.6" font-family="Liberation Sans, sans-serif" font-size="10.4" font-weight="bold" fill="#000" text-anchor="middle">121,1%</text><rect x="387.5" y="528.7" width="44.6" height="18.4" fill="#bfbfbf"/><text x="409.8" y="541.6" font-family="Liberation Sans, sans-serif" font-size="10.4" font-weight="bold" fill="#000" text-anchor="middle">105,3%</text><text x="409.8" y="607.8" font-family="Liberation Sans, sans-serif" font-size="10.8" font-weight="bold" fill="#fff" text-anchor="middle">248,6</text><text x="409.8" y="635" font-family="Liberation Sans, sans-serif" font-size="10.6" fill="#595959" text-anchor="middle">2022</text><rect x="490.9" y="467.4" width="44.6" height="18.4" fill="#ffc000"/><text x="513.2" y="480.3" font-family="Liberation Sans, sans-serif" font-size="10.4" font-weight="bold" fill="#000" text-anchor="middle">113,4%</text><rect x="494.2" y="532.1" width="38" height="18.4" fill="#bfbfbf"/><text x="513.2" y="545.0" font-family="Liberation Sans, sans-serif" font-size="10.4" font-weight="bold" fill="#000" text-anchor="middle">99,1%</text><text x="513.2" y="607.8" font-family="Liberation Sans, sans-serif" font-size="10.8" font-weight="bold" fill="#fff" text-anchor="middle">282,0</text><text x="513.2" y="635" font-family="Liberation Sans, sans-serif" font-size="10.6" fill="#595959" text-anchor="middle">2023</text><rect x="594.3" y="470.2" width="44.6" height="18.4" fill="#ffc000"/><text x="616.6" y="483.1" font-family="Liberation Sans, sans-serif" font-size="10.4" font-weight="bold" fill="#000" text-anchor="middle">107,5%</text><rect x="597.6" y="532.1" width="38" height="18.4" fill="#bfbfbf"/><text x="616.6" y="545.0" font-family="Liberation Sans, sans-serif" font-size="10.4" font-weight="bold" fill="#000" text-anchor="middle">98,9%</text><text x="616.6" y="607.8" font-family="Liberation Sans, sans-serif" font-size="10.8" font-weight="bold" fill="#fff" text-anchor="middle">303,0</text><text x="616.6" y="635" font-family="Liberation Sans, sans-serif" font-size="10.6" fill="#595959" text-anchor="middle">2024</text><rect x="697.7" y="470.8" width="44.6" height="18.4" fill="#ffc000"/><text x="720.0" y="483.7" font-family="Liberation Sans, sans-serif" font-size="10.4" font-weight="bold" fill="#000" text-anchor="middle">107,1%</text><rect x="701.0" y="533.2" width="38" height="18.4" fill="#c9c2b3"/><text x="720.0" y="546.1" font-family="Liberation Sans, sans-serif" font-size="10.4" font-weight="bold" fill="#000" text-anchor="middle">97,0%</text><text x="720.0" y="607.8" font-family="Liberation Sans, sans-serif" font-size="10.8" font-weight="bold" fill="#fdf9ec" text-anchor="middle">337,7</text><text x="720.0" y="635" font-family="Liberation Sans, sans-serif" font-size="10.6" fill="#595959" text-anchor="middle">2025/06</text><line x1="668.3" y1="443.3" x2="668.3" y2="617.3" stroke="#ffc000" stroke-width="2"/><text x="38" y="620.7" font-family="Liberation Sans, sans-serif" font-size="9.4" fill="#595959" text-anchor="end">0,0%</text><text x="38" y="591.7" font-family="Liberation Sans, sans-serif" font-size="9.4" fill="#595959" text-anchor="end">50,0%</text><text x="38" y="562.7" font-family="Liberation Sans, sans-serif" font-size="9.4" fill="#595959" text-anchor="end">100,0%</text><text x="38" y="533.7" font-family="Liberation Sans, sans-serif" font-size="9.4" fill="#595959" text-anchor="end">150,0%</text><text x="38" y="504.7" font-family="Liberation Sans, sans-serif" font-size="9.4" fill="#595959" text-anchor="end">200,0%</text><text x="38" y="475.7" font-family="Liberation Sans, sans-serif" font-size="9.4" fill="#595959" text-anchor="end">250,0%</text><text x="38" y="446.7" font-family="Liberation Sans, sans-serif" font-size="9.4" fill="#595959" text-anchor="end">300,0%</text><text x="781" y="620.8" font-family="Liberation Sans, sans-serif" font-size="9.8" fill="#595959">0,0</text><text x="781" y="599.0" font-family="Liberation Sans, sans-serif" font-size="9.8" fill="#595959">50,0</text><text x="781" y="577.3" font-family="Liberation Sans, sans-serif" font-size="9.8" fill="#595959">100,0</text><text x="781" y="555.5" font-family="Liberation Sans, sans-serif" font-size="9.8" fill="#595959">150,0</text><text x="781" y="533.8" font-family="Liberation Sans, sans-serif" font-size="9.8" fill="#595959">200,0</text><text x="781" y="512.0" font-family="Liberation Sans, sans-serif" font-size="9.8" fill="#595959">250,0</text><text x="781" y="490.3" font-family="Liberation Sans, sans-serif" font-size="9.8" fill="#595959">300,0</text><text x="781" y="468.6" font-family="Liberation Sans, sans-serif" font-size="9.8" fill="#595959">350,0</text><text x="781" y="446.8" font-family="Liberation Sans, sans-serif" font-size="9.8" fill="#595959">400,0</text><rect x="168.8" y="655" width="26" height="6.6" fill="#404040"/><text x="197.5" y="662" font-family="Liberation Sans, sans-serif" font-size="11.05" fill="#595959">Всего</text><line x1="169.5" y1="683.3" x2="194.5" y2="683.3" stroke="#ffc000" stroke-width="3" stroke-linecap="round"/><circle cx="181.8" cy="683.3" r="3.5" fill="#fff" stroke="#ffc000" stroke-width="1.9"/><text x="197.5" y="685.6" font-family="Liberation Sans, sans-serif" font-size="11.05" fill="#595959">Индекс номинальной заработной платы (% к аналогичному периоду предыдущего года)</text><line x1="169.5" y1="707.3" x2="194.5" y2="707.3" stroke="#bfbfbf" stroke-width="3" stroke-linecap="round"/><circle cx="181.8" cy="707.3" r="3.5" fill="#fff" stroke="#bfbfbf" stroke-width="1.9"/><text x="197.5" y="710.7" font-family="Liberation Sans, sans-serif" font-size="11.05" fill="#595959">Индекс реальной заработной платы (% к аналогичному периоду предыдущего года)</text>
<rect x="0" y="0" width="815" height="36.8" fill="#404040"/><rect x="0" y="35.6" width="815" height="1.2" fill="#363636"/>
<text x="10" y="25" font-family="Liberation Sans, sans-serif" font-size="16.26" font-weight="bold" fill="#fff">Средняя номинальная заработная плата. Образование</text>
<text x="462" y="25" font-family="Liberation Sans, sans-serif" font-size="16" fill="#fff">(тыс. тг)</text>
<rect x="0" y="721" width="815" height="25" fill="#404040"/>
<text x="10" y="737.1" font-family="Liberation Sans, sans-serif" font-size="10.8" font-style="italic" fill="#fff" stroke="#fff" stroke-width="0.25">На основе данных Бюро национальной статистики АСПиР РК</text>
<text x="803.3" y="737.4" font-family="Liberation Sans, sans-serif" font-size="12.34" font-style="italic" font-weight="bold" fill="#fff" text-anchor="end">Finprom.kz</text>
</svg>
</body></html>
